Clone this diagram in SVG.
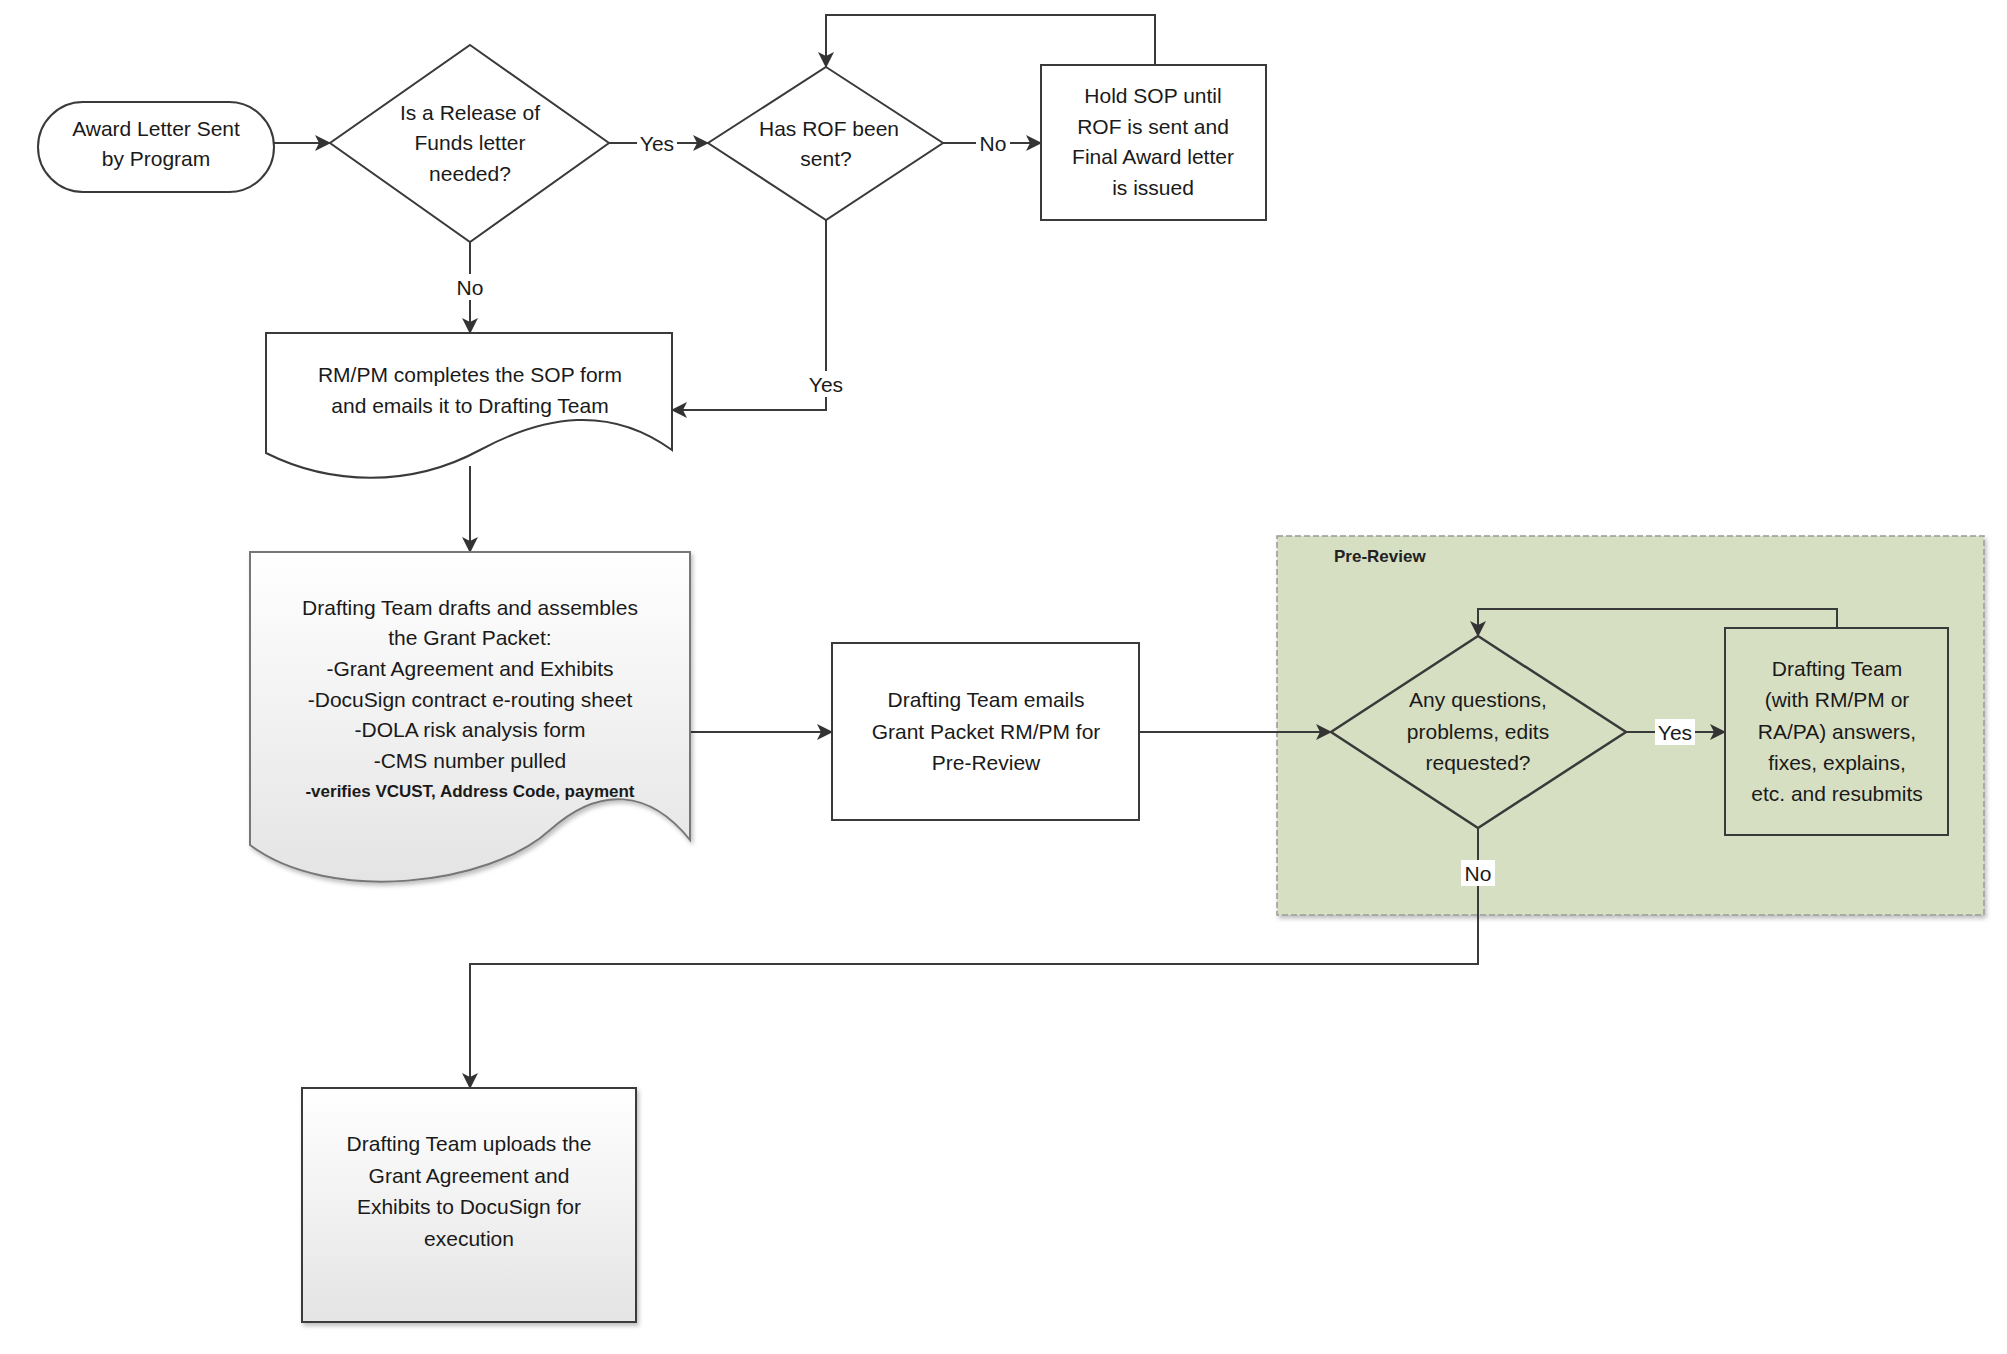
<svg xmlns="http://www.w3.org/2000/svg" width="2007" height="1354" viewBox="0 0 2007 1354">
<defs>
<marker id="ah" markerWidth="16" markerHeight="16" refX="15" refY="8" orient="auto" markerUnits="userSpaceOnUse"><path d="M0,0 L16,8 L0,16 L4,8 Z" fill="#333"/></marker>
<linearGradient id="gg" x1="0" y1="0" x2="0" y2="1"><stop offset="0" stop-color="#ffffff"/><stop offset="1" stop-color="#e4e4e4"/></linearGradient>
<filter id="sh" x="-5%" y="-5%" width="115%" height="115%"><feDropShadow dx="2" dy="3" stdDeviation="2" flood-color="#000" flood-opacity="0.25"/></filter>
</defs>
<style>
.s{fill:#fff;stroke:#3a3a3a;stroke-width:2}
.t{font-family:"Liberation Sans",Arial,sans-serif;font-size:21px;fill:#1a1a1a;text-anchor:middle}
.c{fill:none;stroke:#3a3a3a;stroke-width:2}
.lb{font-family:"Liberation Sans",Arial,sans-serif;font-size:21px;fill:#1a1a1a;text-anchor:middle}
</style>
<rect width="2007" height="1354" fill="#fff"/>
<g id="prereview">
<rect x="1277" y="536" width="707" height="379" fill="#d7dfc3" stroke="#999" stroke-width="1.5" stroke-dasharray="6,3" filter="url(#sh)"/>
<text x="1334" y="562" style="font-family:'Liberation Sans',Arial,sans-serif;font-size:17px;font-weight:bold;fill:#222">Pre-Review</text>
</g>
<g id="connectors">
<path class="c" d="M274,143 H330" marker-end="url(#ah)"/>
<path class="c" d="M609,143 H708" marker-end="url(#ah)"/>
<path class="c" d="M943,143 H1041" marker-end="url(#ah)"/>
<path class="c" d="M1155,65 V15 H826 V67" marker-end="url(#ah)"/>
<path class="c" d="M470,242 V333" marker-end="url(#ah)"/>
<path class="c" d="M826,220 V410 H672" marker-end="url(#ah)"/>
<path class="c" d="M470,466 V552" marker-end="url(#ah)"/>
<path class="c" d="M690,732 H832" marker-end="url(#ah)"/>
<path class="c" d="M1139,732 H1331" marker-end="url(#ah)"/>
<path class="c" d="M1626,732 H1725" marker-end="url(#ah)"/>
<path class="c" d="M1837,628 V609 H1478 V636" marker-end="url(#ah)"/>
<path class="c" d="M1478,828 V964 H470 V1088" marker-end="url(#ah)"/>
<rect x="637" y="130" width="40" height="26" fill="#fff"/><text class="lb" x="657" y="151">Yes</text>
<rect x="976" y="130" width="34" height="26" fill="#fff"/><text class="lb" x="993" y="151">No</text>
<rect x="453" y="274" width="34" height="26" fill="#fff"/><text class="lb" x="470" y="295">No</text>
<rect x="806" y="371" width="40" height="26" fill="#fff"/><text class="lb" x="826" y="392">Yes</text>
<rect x="1655" y="719" width="40" height="26" fill="#fff"/><text class="lb" x="1675" y="740">Yes</text>
<rect x="1461" y="860" width="34" height="26" fill="#fff"/><text class="lb" x="1478" y="881">No</text>
</g>
<g id="start">
<rect class="s" x="38" y="102" width="236" height="90" rx="45"/>
<text class="t" x="156" y="136">Award Letter Sent</text><text class="t" x="156" y="166">by Program</text>
</g>
<g id="d1">
<path class="s" d="M470,45 L609,143 L470,242 L330,143 Z"/>
<text class="t" x="470" y="120">Is a Release of</text><text class="t" x="470" y="150">Funds letter</text><text class="t" x="470" y="181">needed?</text>
</g>
<g id="d2">
<path class="s" d="M826,67 L943,143 L826,220 L708,143 Z"/>
<text class="t" x="829" y="136">Has ROF been</text><text class="t" x="826" y="166">sent?</text>
</g>
<g id="hold">
<rect class="s" x="1041" y="65" width="225" height="155"/>
<text class="t" x="1153" y="103">Hold SOP until</text><text class="t" x="1153" y="134">ROF is sent and</text><text class="t" x="1153" y="164">Final Award letter</text><text class="t" x="1153" y="195">is issued</text>
</g>
<g id="sop">
<path class="s" d="M266,333 H672 V450 C610,405 545,415 480,450 C410,488 330,485 266,453 Z"/>
<text class="t" x="470" y="382">RM/PM completes the SOP form</text><text class="t" x="470" y="413">and emails it to Drafting Team</text>
</g>
<g id="packet">
<path d="M250,552 H690 V840 C650,790 600,785 550,830 C490,885 330,905 250,845 Z" fill="url(#gg)" stroke="#777" stroke-width="2" filter="url(#sh)"/>
<text class="t" x="470" y="615">Drafting Team drafts and assembles</text>
<text class="t" x="470" y="645">the Grant Packet:</text>
<text class="t" x="470" y="676">-Grant Agreement and Exhibits</text>
<text class="t" x="470" y="707">-DocuSign contract e-routing sheet</text>
<text class="t" x="470" y="737">-DOLA risk analysis form</text>
<text class="t" x="470" y="768">-CMS number pulled</text>
<text class="t" x="470" y="797" style="font-size:17px;font-weight:bold">-verifies VCUST, Address Code, payment</text>
</g>
<g id="emails">
<rect class="s" x="832" y="643" width="307" height="177"/>
<text class="t" x="986" y="707">Drafting Team emails</text><text class="t" x="986" y="739">Grant Packet RM/PM for</text><text class="t" x="986" y="770">Pre-Review</text>
</g>
<g id="d3">
<path d="M1478,636 L1626,732 L1478,828 L1331,732 Z" fill="none" stroke="#3a3a3a" stroke-width="2.5"/>
<text class="t" x="1478" y="707">Any questions,</text><text class="t" x="1478" y="739">problems, edits</text><text class="t" x="1478" y="770">requested?</text>
</g>
<g id="fix">
<rect x="1725" y="628" width="223" height="207" fill="none" stroke="#3a3a3a" stroke-width="2"/>
<text class="t" x="1837" y="676">Drafting Team</text><text class="t" x="1837" y="707">(with RM/PM or</text><text class="t" x="1837" y="739">RA/PA) answers,</text><text class="t" x="1837" y="770">fixes, explains,</text><text class="t" x="1837" y="801">etc. and resubmits</text>
</g>
<g id="upload">
<rect x="302" y="1088" width="334" height="234" fill="url(#gg)" stroke="#3a3a3a" stroke-width="2" filter="url(#sh)"/>
<text class="t" x="469" y="1151">Drafting Team uploads the</text><text class="t" x="469" y="1183">Grant Agreement and</text><text class="t" x="469" y="1214">Exhibits to DocuSign for</text><text class="t" x="469" y="1246">execution</text>
</g>
</svg>
